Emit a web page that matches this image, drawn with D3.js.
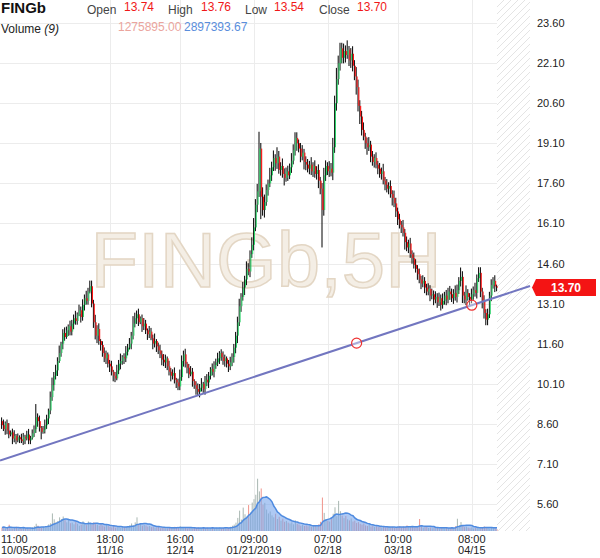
<!DOCTYPE html>
<html lang="en">
<head><meta charset="utf-8">
<title>FINGb 5H</title>
<style>
body {
  margin: 0;
  background: #fff;
}
svg text {
  font-family: "Liberation Sans", Arial, sans-serif;
}
</style>
</head>
<body>
<svg id="chart"></svg>
<script src="https://cdnjs.cloudflare.com/ajax/libs/d3/7.8.5/d3.min.js"></script>
<script>

// closing prices of the 5H bars
var closes = [
  8.55, 8.40, 8.62, 8.35, 8.20, 8.28, 8.05, 8.15, 7.98, 8.10,
  8.02, 7.95, 8.12, 8.05, 8.20, 7.98, 8.08, 8.25, 8.40, 8.85,
  8.70, 8.45, 8.30, 8.38, 8.55, 8.80, 9.10, 9.60, 10.05, 10.40,
  10.60, 10.95, 11.25, 11.60, 12.00, 11.85, 12.10, 12.25, 12.05, 12.35,
  12.55, 12.45, 12.70, 12.85, 12.60, 13.05, 13.30, 13.20, 13.55, 13.75,
  13.10, 12.40, 11.90, 12.15, 11.70, 11.55, 11.25, 11.05, 11.20, 10.85,
  10.75, 10.55, 10.40, 10.30, 10.60, 10.85, 10.95, 11.10, 11.05, 11.30,
  11.45, 11.60, 11.90, 12.35, 12.55, 12.70, 12.40, 12.55, 12.25, 12.35,
  12.10, 11.95, 12.05, 11.80, 11.60, 11.70, 11.50, 11.35, 11.20, 11.00,
  10.90, 11.05, 10.75, 10.55, 10.40, 10.50, 10.25, 10.15, 10.00, 10.35,
  10.95, 11.20, 10.85, 10.70, 10.45, 10.55, 10.20, 10.05, 9.90, 9.80,
  9.95, 10.10, 9.90, 10.25, 10.15, 10.40, 10.65, 10.55, 10.80, 10.90,
  11.05, 11.25, 11.10, 10.95, 11.05, 10.85, 10.75, 10.90, 11.10, 11.45,
  11.90, 12.40, 13.00, 13.35, 13.70, 14.00, 14.40, 14.30, 14.95, 15.30,
  15.95, 16.80, 17.30, 18.90, 17.10, 16.60, 16.90, 17.35, 17.60, 17.90,
  18.20, 18.55, 18.35, 18.60, 18.10, 18.25, 17.95, 17.80, 18.05, 17.90,
  18.20, 18.45, 18.85, 19.30, 19.10, 18.90, 18.60, 18.75, 18.40, 18.30,
  18.15, 18.30, 18.05, 18.25, 17.95, 18.10, 17.70, 17.40, 16.60, 17.90,
  18.25, 18.05, 18.15, 18.00, 18.95, 20.60, 21.50, 22.10, 22.65, 22.30,
  22.55, 22.40, 22.60, 22.20, 22.45, 22.00, 21.60, 21.20, 20.50, 20.10,
  19.60, 19.35, 19.10, 18.95, 19.05, 18.60, 18.40, 18.55, 18.30, 18.15,
  17.95, 18.05, 17.70, 17.55, 17.40, 17.50, 17.20, 17.05, 16.85, 16.55,
  16.25, 16.05, 15.95, 15.75, 15.40, 15.20, 15.35, 14.95, 14.80, 14.55,
  14.40, 14.20, 14.00, 13.85, 13.95, 13.70, 13.55, 13.65, 13.40, 13.45,
  13.25, 13.35, 13.15, 13.30, 13.05, 13.20, 13.40, 13.25, 13.55, 13.45,
  13.30, 13.50, 13.35, 13.60, 13.95, 14.10, 13.40, 13.25, 13.50, 13.35,
  13.25, 13.45, 13.60, 13.50, 14.05, 14.25, 13.55, 13.20, 12.75, 12.50,
  12.70, 13.40, 13.80, 13.95, 13.74, 13.70
];
var firstOpen = 8.70;

// upper / lower shadow of each bar, in steps of wickStep
var wickStep = 0.07;
var wickHi = [
  2,3,1,2,4,1,2,3,1,2, 1,3,2,1,2,3,1,2,2,7, 2,3,1,2,3,2,1,3,4,2,
  3,2,4,1,2,3,2,1,3,2, 2,4,1,3,2,3,2,4,2,3, 3,2,4,2,3,1,2,3,2,1,
  2,3,1,2,3,2,4,1,2,3, 2,3,2,4,3,2,3,1,2,3, 2,1,3,2,2,4,1,2,3,2,
  3,2,1,3,2,2,3,1,2,4, 3,2,3,1,2,3,2,1,2,3, 2,3,1,2,3,2,1,3,2,2,
  3,1,2,3,2,1,2,3,2,2, 2,3,4,2,3,2,4,3,2,4, 5,3,4,9,3,5,4,3,2,4,
  3,4,2,5,3,2,4,3,2,3, 2,4,3,3,3,2,3,4,2,3, 3,2,4,2,3,2,3,2,3,4,
  3,2,4,3,5,4,6,4,3,3, 4,3,5,2,3,4,3,5,4,3, 3,4,2,3,4,2,3,2,3,2,
  3,2,4,2,3,2,3,2,4,3, 2,3,2,4,2,3,2,3,2,3, 3,2,3,2,3,2,2,3,2,3,
  2,3,2,3,2,4,2,3,2,3, 3,2,4,3,2,5,3,2,4,2, 2,3,2,4,2,3,3,2,3,2,
  3,2,3,2,3,1
];
var wickLo = [
  2,1,3,2,2,1,3,2,2,1, 2,1,2,3,1,2,2,1,2,2, 3,2,4,1,2,2,3,2,2,3,
  2,3,1,2,3,2,1,3,2,2, 3,2,2,1,3,2,3,2,2,1, 2,3,2,4,2,3,2,2,3,2,
  3,2,3,2,1,2,3,2,3,2, 2,1,3,2,2,3,2,1,3,2, 2,3,2,1,3,2,3,2,2,3,
  2,3,2,2,3,2,2,3,2,2, 2,3,2,3,2,1,3,2,3,2, 3,2,2,3,2,3,2,2,3,2,
  2,3,2,2,3,2,3,2,2,3, 3,4,2,3,2,4,3,2,3,2, 3,2,4,3,12,3,4,2,3,2,
  3,2,4,3,2,3,2,4,2,3, 2,3,2,3,4,2,3,2,4,3, 2,3,2,3,2,3,4,3,20,3,
  3,2,3,2,4,3,4,3,4,3, 3,4,2,3,4,3,2,4,3,4, 3,2,3,4,2,3,2,3,2,3,
  2,3,2,3,2,3,2,4,2,3, 3,2,3,2,4,2,3,2,3,2, 2,3,2,3,2,3,2,2,3,2,
  3,2,3,2,3,2,2,3,2,3, 2,3,2,3,2,3,4,2,3,2, 3,2,3,2,3,2,3,4,3,3,
  3,2,3,2,3,2
];

// volume per bar, millions
var volumes = [
  2.5, 3.1, 1.8, 2.2, 4.5, 2.0, 1.6, 2.4, 3.0, 1.9,
  2.1, 1.5, 2.8, 1.7, 2.3, 1.4, 2.0, 2.6, 3.4, 5.2,
  3.8, 2.6, 2.2, 3.0, 2.4, 3.6, 4.8, 5.5, 12.6, 8.4,
  6.5, 7.2, 9.8, 8.6, 10.4, 7.8, 6.2, 8.8, 5.6, 6.0,
  4.8, 6.4, 5.2, 3.8, 4.6, 7.0, 5.4, 4.2, 6.8, 5.8,
  4.4, 6.2, 5.0, 4.6, 3.8, 5.6, 4.0, 3.2, 4.8, 3.6,
  3.0, 2.6, 3.8, 2.4, 3.2, 2.8, 2.2, 3.4, 2.6, 3.0,
  3.6, 4.2, 5.4, 4.0, 6.2, 9.8, 4.8, 5.6, 3.8, 4.4,
  4.0, 3.2, 3.6, 2.8, 3.0, 2.4, 2.6, 3.2, 2.0, 2.4,
  2.2, 2.8, 1.8, 2.4, 2.0, 2.6, 3.0, 2.2, 2.8, 3.4,
  2.6, 2.0, 2.4, 1.8, 2.2, 2.8, 1.6, 2.4, 2.0, 2.6,
  2.2, 1.8, 2.6, 2.0, 2.4, 1.6, 2.2, 2.8, 1.8, 2.4,
  2.0, 2.6, 1.8, 2.2, 2.8, 2.0, 2.4, 3.0, 3.8, 4.6,
  6.0, 9.4, 14.6, 8.2, 16.8, 12.0, 10.4, 18.6, 13.2, 20.4,
  22.8, 26.0, 37.5, 28.4, 30.5, 18.8, 20.2, 15.4, 12.6, 14.0,
  11.2, 9.8, 12.4, 8.6, 10.2, 7.4, 8.8, 6.6, 7.2, 6.0,
  5.4, 6.2, 4.8, 7.6, 5.2, 4.6, 3.8, 4.4, 3.6, 4.0,
  3.4, 3.8, 3.0, 3.6, 4.2, 3.2, 4.8, 6.6, 24.0, 13.0,
  8.4, 7.2, 6.8, 9.6, 12.4, 17.0, 10.6, 21.6, 14.2, 11.0,
  9.2, 10.8, 8.4, 7.6, 9.0, 6.8, 7.4, 5.8, 6.4, 5.2,
  4.6, 5.4, 4.0, 3.6, 4.4, 3.2, 3.8, 3.0, 3.4, 2.8,
  3.2, 2.6, 3.0, 2.4, 2.8, 3.4, 2.6, 3.0, 2.2, 2.8,
  3.0, 3.6, 2.6, 3.2, 2.8, 4.0, 3.4, 2.8, 3.2, 2.6,
  3.0, 2.6, 8.6, 3.2, 2.4, 2.8, 3.0, 2.2, 2.6, 2.0,
  2.4, 2.0, 2.6, 1.8, 2.2, 2.8, 2.0, 2.4, 1.8, 2.2,
  2.6, 2.2, 3.4, 8.8, 4.2, 6.4, 3.6, 2.8, 3.2, 2.4,
  2.0, 2.6, 1.8, 2.2, 3.0, 2.4, 2.0, 2.8, 3.2, 2.6,
  2.2, 1.8, 2.4, 2.0, 2.6, 1.3
];
var maPeriod = 9;

var priceTicks = [23.6, 22.1, 20.6, 19.1, 17.6, 16.1, 14.6, 13.1, 11.6, 10.1, 8.6, 7.1, 5.6];
var timeTickIndex = [0, 60, 99, 140, 181, 220, 261];
var timeTickTop = ["11:00", "18:00", "16:00", "09:00", "07:00", "10:00", "08:00"];
var timeTickBottom = ["10/05/2018", "11/16", "12/14", "01/21/2019", "02/18", "03/18", "04/15"];

// trend line anchors: [bar index, price]
var trendPoints = [[197, 11.62], [261, 13.04]];
var lastPrice = 13.70;

var symbol = "FINGb";
var ohlcNames = ["Open", "High", "Low", "Close"];
var ohlcValues = ["13.74", "13.76", "13.54", "13.70"];
var volumeValues = ["1275895.00", "2897393.67"];

var width = 600, height = 558;

var bars = closes.map(function(c, i) {
  var o = i === 0 ? firstOpen : closes[i - 1];
  return {
    i: i, open: o, close: c,
    high: Math.max(o, c) + wickHi[i] * wickStep,
    low: Math.min(o, c) - wickLo[i] * wickStep,
    vol: volumes[i]
  };
});
bars.forEach(function(d, i) {
  var part = volumes.slice(Math.max(0, i - maPeriod + 1), i + 1);
  d.ma = d3.mean(part);
});

var x = d3.scaleLinear().domain([0, closes.length - 1]).range([2, 497]);
var y = d3.scaleLinear().domain([5.6, 23.6]).range([504, 23]);
var vy = d3.scaleLinear().domain([0, 38]).range([531, 478]);

var svg = d3.select("#chart")
    .attr("width", width)
    .attr("height", height);

var defs = svg.append("defs");
var hatch = defs.append("pattern")
    .attr("id", "hatch")
    .attr("patternUnits", "userSpaceOnUse")
    .attr("width", 7)
    .attr("height", 7);
hatch.append("path")
    .attr("d", "M-1,1 l2,-2 M0,7 l7,-7 M6,8 l2,-2")
    .attr("stroke", "#e4e4e4")
    .attr("stroke-width", 1);

// grid
svg.append("g").selectAll("line.h")
    .data(priceTicks)
  .enter().append("line")
    .attr("x1", 0).attr("x2", 497)
    .attr("y1", function(d) { return Math.round(y(d)) + 0.5; })
    .attr("y2", function(d) { return Math.round(y(d)) + 0.5; })
    .attr("stroke", "#ececec");
svg.append("g").selectAll("line.v")
    .data(timeTickIndex.slice(1))
  .enter().append("line")
    .attr("y1", 0).attr("y2", 531)
    .attr("x1", function(d) { return Math.round(x(d)) + 0.5; })
    .attr("x2", function(d) { return Math.round(x(d)) + 0.5; })
    .attr("stroke", "#ececec");

// hatched zone right of the last bar
svg.append("rect")
    .attr("x", 497).attr("y", 0)
    .attr("width", 33).attr("height", 531)
    .attr("fill", "url(#hatch)");

// watermark
svg.append("text")
    .attr("x", 266).attr("y", 287)
    .attr("text-anchor", "middle")
    .attr("font-size", 78)
    .attr("fill", "#f4eee5")
    .attr("stroke", "#e3d6c4")
    .attr("stroke-width", 1.5)
    .text(symbol + ",5H");

// volume bars
svg.append("g").selectAll("rect")
    .data(bars)
  .enter().append("rect")
    .attr("x", function(d) { return x(d.i) - 0.5; })
    .attr("width", 1)
    .attr("y", function(d) { return vy(d.vol); })
    .attr("height", function(d) { return vy(0) - vy(d.vol); })
    .attr("fill", function(d) { return d.close >= d.open ? "#a9b7b2" : "#f0938a"; });

var maArea = d3.area()
    .x(function(d) { return x(d.i); })
    .y0(vy(0))
    .y1(function(d) { return vy(d.ma); });
var maLine = d3.line()
    .x(function(d) { return x(d.i); })
    .y(function(d) { return vy(d.ma); });
svg.append("path")
    .datum(bars)
    .attr("d", maArea)
    .attr("fill", "rgba(120,165,235,0.6)");
svg.append("path")
    .datum(bars)
    .attr("d", maLine)
    .attr("fill", "none")
    .attr("stroke", "#4f8be0")
    .attr("stroke-width", 1.5);

// candles
var candles = svg.append("g");
candles.selectAll("line")
    .data(bars)
  .enter().append("line")
    .attr("x1", function(d) { return x(d.i) - 0.4; })
    .attr("x2", function(d) { return x(d.i) - 0.4; })
    .attr("y1", function(d) { return y(d.high); })
    .attr("y2", function(d) { return y(d.low); })
    .attr("stroke", "#000")
    .attr("stroke-width", 1);
candles.selectAll("rect")
    .data(bars)
  .enter().append("rect")
    .attr("x", function(d) { return x(d.i) - 0.1; })
    .attr("width", 1.1)
    .attr("y", function(d) { return y(Math.max(d.open, d.close)); })
    .attr("height", function(d) { return Math.max(1, Math.abs(y(d.open) - y(d.close))); })
    .attr("fill", function(d) { return d.close >= d.open ? "#2ed36a" : "#ff1010"; });

// trend line through the two anchors, stretched to the plot edges
var slope = (trendPoints[1][1] - trendPoints[0][1]) / (trendPoints[1][0] - trendPoints[0][0]);
var iLeft = x.invert(0), iRight = x.invert(530);
svg.append("line")
    .attr("x1", 0)
    .attr("y1", y(trendPoints[0][1] + slope * (iLeft - trendPoints[0][0])))
    .attr("x2", 530)
    .attr("y2", y(trendPoints[0][1] + slope * (iRight - trendPoints[0][0])))
    .attr("stroke", "#7276c0")
    .attr("stroke-width", 2);
svg.append("g").selectAll("circle")
    .data(trendPoints)
  .enter().append("circle")
    .attr("cx", function(d) { return x(d[0]); })
    .attr("cy", function(d) { return y(d[1]); })
    .attr("r", 5)
    .attr("fill", "rgba(255,255,255,0.4)")
    .attr("stroke", "#ee3030")
    .attr("stroke-width", 1.2);

// price axis
svg.append("g").selectAll("text")
    .data(priceTicks)
  .enter().append("text")
    .attr("x", 537)
    .attr("y", function(d) { return y(d) + 4; })
    .attr("font-size", 11)
    .attr("fill", "#222")
    .text(function(d) { return d.toFixed(2); });

// time axis
var tAxis = svg.append("g").selectAll("g")
    .data(timeTickIndex)
  .enter().append("g");
tAxis.append("text")
    .attr("x", function(d, k) { return k === 0 ? 1 : x(d); })
    .attr("y", 543)
    .attr("text-anchor", function(d, k) { return k === 0 ? "start" : "middle"; })
    .attr("font-size", 11)
    .attr("fill", "#222")
    .text(function(d, k) { return timeTickTop[k]; });
tAxis.append("text")
    .attr("x", function(d, k) { return k === 0 ? 1 : x(d); })
    .attr("y", 554)
    .attr("text-anchor", function(d, k) { return k === 0 ? "start" : "middle"; })
    .attr("font-size", 11)
    .attr("fill", "#222")
    .text(function(d, k) { return timeTickBottom[k]; });

// last price marker
var py = y(lastPrice);
svg.append("path")
    .attr("d", "M532," + py + " L536," + (py - 8.5) + " H596 V" + (py + 8.5) + " H536 Z")
    .attr("fill", "#f41414");
svg.append("text")
    .attr("x", 566).attr("y", py + 4.5)
    .attr("text-anchor", "middle")
    .attr("font-size", 12)
    .attr("font-weight", "bold")
    .attr("fill", "#fff")
    .text(lastPrice.toFixed(2));

// header
svg.append("text")
    .attr("x", 1).attr("y", 13)
    .attr("font-size", 15)
    .attr("font-weight", "bold")
    .attr("fill", "#111")
    .text(symbol);
var nameX = [87, 168, 245, 319], valX = [124, 201, 274, 357];
ohlcNames.forEach(function(n, k) {
  svg.append("text")
      .attr("x", nameX[k]).attr("y", 14)
      .attr("font-size", 12).attr("fill", "#444")
      .text(n);
  svg.append("text")
      .attr("x", valX[k]).attr("y", 11)
      .attr("font-size", 12).attr("fill", "#f01818")
      .text(ohlcValues[k]);
});
var vt = svg.append("text")
    .attr("x", 1).attr("y", 33)
    .attr("font-size", 12).attr("fill", "#222");
vt.append("tspan").text("Volume ");
vt.append("tspan").attr("font-style", "italic").text("(" + maPeriod + ")");
svg.append("text")
    .attr("x", 118).attr("y", 31)
    .attr("font-size", 12).attr("fill", "#eba59d")
    .text(volumeValues[0]);
svg.append("text")
    .attr("x", 184).attr("y", 31)
    .attr("font-size", 12).attr("fill", "#5a8edc")
    .text(volumeValues[1]);

</script>
</body>
</html>
